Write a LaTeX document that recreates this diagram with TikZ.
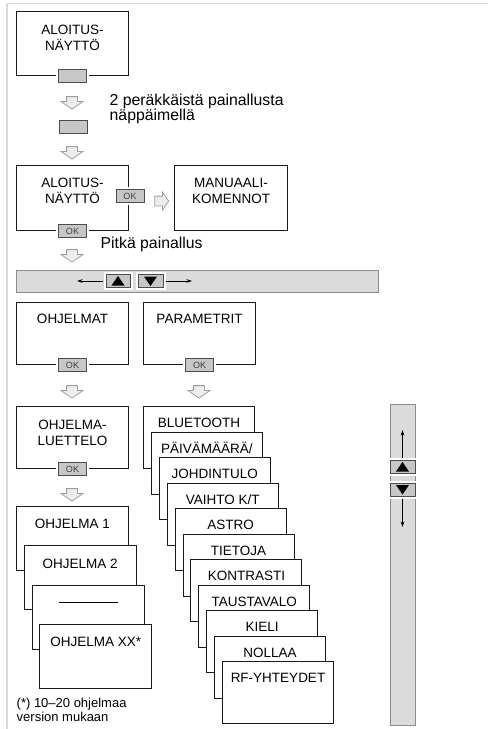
\documentclass[tikz,border=0pt]{standalone}
\usepackage{fontspec}
\setmainfont{Liberation Sans}
\usetikzlibrary{positioning, shapes.arrows, arrows.meta}

\tikzset{
  frameline/.style={draw=black!15, line width=1.6pt},
  screen/.style={draw=black!90, line width=1pt, fill=white, anchor=north west,
    minimum width=112pt, minimum height=64pt, inner sep=0pt},
  boxtxt/.style={font=\fontsize{13.5}{15.8}\selectfont, align=center, inner sep=0pt},
  linetxt/.style={font=\fontsize{13.5}{15.8}\selectfont, inner sep=0pt,
    text height=9.7pt, text depth=0pt},
  labeltxt/.style={font=\fontsize{15.8}{15}\selectfont, align=left, inner sep=0pt},
  notetxt/.style={font=\fontsize{13}{14}\selectfont, align=left, inner sep=0pt},
  key/.style={draw=black!70, line width=0.8pt, fill=black!22, minimum width=28pt,
    minimum height=13.5pt, inner sep=0pt, text=black!75,
    font=\fontsize{9}{9}\selectfont, preaction={draw=white, line width=5pt}},
  navkey/.style={key, minimum width=25pt, minimum height=13pt},
  bar/.style={draw=black!45, line width=0.8pt, fill=black!14, anchor=north west, inner sep=0pt},
  hollow/.style={single arrow, draw=black!38, fill=black!7, line width=0.8pt,
    minimum height=12.5pt, inner xsep=0pt, inner ysep=5pt,
    single arrow head extend=5.5pt, single arrow tip angle=110},
  navarrow/.style={-{Stealth[length=5.5pt, width=3.5pt]}, line width=0.6pt, black},
}

% triangles on the arrow keys
\newcommand{\keyup}[1]{\fill[black] ([yshift=5pt]#1.center) -- ([shift={(6.5pt,-4.5pt)}]#1.center) -- ([shift={(-6.5pt,-4.5pt)}]#1.center) -- cycle;}
\newcommand{\keydown}[1]{\fill[black] ([yshift=-5pt]#1.center) -- ([shift={(6.5pt,4.5pt)}]#1.center) -- ([shift={(-6.5pt,4.5pt)}]#1.center) -- cycle;}

\begin{document}
\begin{tikzpicture}[x=1pt, y=-1pt]
  \useasboundingbox (0,0) rectangle (488,729);

  % Frame
  \draw[frameline] (7,3.5) -- (488,3.5);
  \draw[frameline] (7,3.5) -- (7,729);

  % Start screen
  \node[screen] (start1) at (16,11) {};
  \node[boxtxt] (start1txt) at ([yshift=-26.5pt]start1.north) {ALOITUS-\\NÄYTTÖ};
  \node[key] (key1) at (start1.south) {};
  \node[hollow, rotate=-90] (arr1) at (72,101) {};
  \node[labeltxt, anchor=north west] (twice) at (109.5,93.5) {2 peräkkäistä painallusta\\näppäimellä};
  \node[key] (key2) at (73,127) {};
  \node[hollow, rotate=-90] (arr2) at (72,151) {};

  % Second start screen and manual commands
  \node[screen, minimum height=65pt] (start2) at (16,165) {};
  \node[boxtxt] (start2txt) at ([yshift=-26pt]start2.north) {ALOITUS-\\NÄYTTÖ};
  \node[key] (ok1) at (start2.south) {OK};
  \node[key] (ok2) at ([xshift=1pt,yshift=2pt]start2.east) {OK};
  \node[hollow, minimum height=14pt, inner ysep=4.5pt, single arrow head extend=4pt] (arr3) at (160,201) {};
  \node[screen, minimum width=113pt, minimum height=65pt] (manual) at (174,165) {};
  \node[boxtxt] (manualtxt) at ([yshift=-26pt]manual.north) {MANUAALI-\\KOMENNOT};
  \node[labeltxt, anchor=base west] (long) at (100.5,248) {Pitkä painallus};
  \node[hollow, rotate=-90] (arr4) at (72,254) {};

  % Horizontal scroll bar
  \node[bar, minimum width=362pt, minimum height=22pt] (hbar) at (16,270) {};
  \node[navkey, minimum width=24pt, minimum height=12.5pt] (hup) at (118,281) {};
  \node[navkey, minimum width=25pt, minimum height=12.5pt] (hdown) at (150.5,281) {};
  \keyup{hup}
  \keydown{hdown}
  \coordinate (hleft) at (77,281);
  \coordinate (hright) at (192,281);
  \draw[navarrow] ([xshift=-2.5pt]hup.west) -- (hleft);
  \draw[navarrow] ([xshift=2.5pt]hdown.east) -- (hright);

  % Programs and parameters
  \node[screen, minimum height=62pt] (prog) at (16,302) {};
  \node[linetxt] (progtxt) at ([yshift=-17pt]prog.north) {OHJELMAT};
  \node[key] (ok3) at (prog.south) {OK};
  \node[screen, minimum height=62pt] (param) at (143,302) {};
  \node[linetxt] (paramtxt) at ([yshift=-17pt]param.north) {PARAMETRIT};
  \node[key] (ok4) at (param.south) {OK};
  \node[hollow, rotate=-90] (arr5) at (72,390) {};
  \node[hollow, rotate=-90] (arr6) at (199,390) {};

  \node[screen, minimum height=62pt] (list) at (16,406) {};
  \node[boxtxt] (listtxt) at ([yshift=-27pt]list.north) {OHJELMA-\\LUETTELO};
  \node[key] (ok5) at (list.south) {OK};
  \node[hollow, rotate=-90] (arr7) at (72,493) {};

  % Program stack
  \foreach \progname [count=\i from 0] in {{OHJELMA 1}, {OHJELMA 2}, {\rule[4.3pt]{59pt}{0.7pt}}, {OHJELMA XX*}} {
    \node[screen] (prog\i) at ({16+7.75*\i},{506+39.3*\i}) {};
    \node[linetxt] (progtxt\i) at ([yshift=-18pt]prog\i.north) {\progname};
  }

  % Parameter stack
  \foreach \parname [count=\i from 0] in {BLUETOOTH, {PÄIVÄMÄÄRÄ/}, JOHDINTULO, {VAIHTO K/T}, ASTRO, TIETOJA, KONTRASTI, TAUSTAVALO, KIELI, NOLLAA, RF-YHTEYDET} {
    \node[screen, minimum width=111pt, minimum height=62pt] (par\i) at ({143+7.9*\i},{406+25.5*\i}) {};
    \node[linetxt] (partxt\i) at ([yshift=-17pt]par\i.north) {\parname};
  }

  \node[notetxt, anchor=north west] (note) at (16.5,697.5) {(*) 10–20 ohjelmaa\\version mukaan};

  % Vertical scroll bar
  \node[bar, minimum width=25pt, minimum height=321pt] (vbar) at (390,404) {};
  \node[navkey] (vup) at (402.5,467) {};
  \node[navkey] (vdown) at (402.5,489.5) {};
  \keyup{vup}
  \keydown{vdown}
  \coordinate (vtop) at (402.5,430);
  \coordinate (vbottom) at (402.5,527);
  \draw[navarrow] ([yshift=2.5pt]vup.north) -- (vtop);
  \draw[navarrow] ([yshift=-2.5pt]vdown.south) -- (vbottom);
\end{tikzpicture}
\end{document}
